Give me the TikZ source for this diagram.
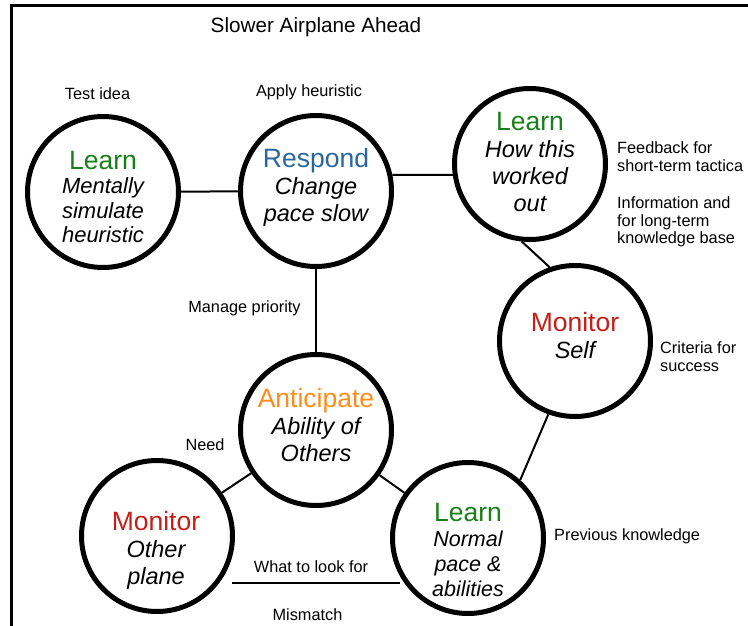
\documentclass[tikz,border=0pt]{standalone}
\usepackage{fontspec}
\setmainfont{Liberation Sans}
\usepackage{tikz}

\definecolor{learngreen}{RGB}{24,128,24}
\definecolor{respondblue}{RGB}{40,102,158}
\definecolor{monitorred}{RGB}{196,30,22}
\definecolor{anticorange}{RGB}{255,140,26}

\newcommand{\stage}[2]{{\fontsize{26.5}{27}\selectfont\upshape\color{#1}#2}}

\begin{document}
\begin{tikzpicture}[x=10pt, y=-10pt,
    bubble/.style={circle, draw, line width=5pt, minimum size=151pt, inner sep=0pt},
    inside/.style={align=center, inner sep=0pt, font=\fontsize{23.5}{27}\selectfont\itshape},
    note/.style={inner sep=0pt, font=\fontsize{16.3}{17.5}\selectfont},
    link/.style={line width=2pt}]

    \useasboundingbox (0,0) rectangle (74.8,62.6);
    \draw[line width=3pt] (74.8,0.6) -- (1.1,0.6) -- (1.1,62.6);

    \node[note, anchor=base, font=\fontsize{20.7}{24}\selectfont] (title) at (31.6,3.3) {Slower Airplane Ahead};

    \node[bubble] (c1) at (10.3,19.2) {};
    \node[bubble] (c2) at (31.6,19.1) {};
    \node[bubble] (c3) at (53.0,16.4) {};
    \node[bubble] (c4) at (57.5,34.1) {};
    \node[bubble] (c5) at (31.6,43.0) {};
    \node[bubble] (c6) at (15.7,53.6) {};
    \node[bubble] (c7) at (46.8,53.8) {};

    \node[inside, font=\fontsize{22}{24.5}\selectfont\itshape] (t1) at (10.3,19.7) {\stage{learngreen}{Learn}\\Mentally\\simulate\\heuristic};
    \node[inside] (t2) at (31.6,18.7) {\stage{respondblue}{Respond}\\Change\\pace slow};
    \node[inside] (t3) at (53.0,16.2) {\stage{learngreen}{Learn}\\How this\\worked\\out};
    \node[inside] (t4) at (57.5,33.6) {\stage{monitorred}{Monitor}\\Self};
    \node[inside] (t5) at (31.6,42.5) {\stage{anticorange}{Anticipate}\\Ability of\\Others};
    \node[inside] (t6) at (15.6,55.0) {\stage{monitorred}{Monitor}\\Other\\plane};
    \node[inside, font=\fontsize{21.5}{25}\selectfont\itshape] (t7) at (46.8,55.0) {\stage{learngreen}{Learn}\\Normal\\pace \&\\abilities};

    \draw[link] (c1) -- (c2);
    \draw[link] (c2.12) -- (c3.188);
    \draw[link] (c2) -- (c5);
    \draw[link] (c3.264) -- (c4.109);
    \draw[link] (c5) -- (c6);
    \draw[link] (c5) -- (c7);
    \draw[link] (c7.48) -- (c4.250);
    \coordinate (m1) at (23.2,58.3);
    \coordinate (m2) at (40.0,58.3);
    \draw[link] (m1) -- (m2);

    \node[note, anchor=base] (test) at (9.75,10.0) {Test idea};
    \node[note, anchor=base] (apply) at (30.9,9.7) {Apply heuristic};
    \node[note, anchor=north west, align=left] (feedback) at (61.7,14.16) {Feedback for\\short-term tactica};
    \node[note, anchor=north west, align=left] (info) at (61.7,19.66) {Information and\\for long-term\\knowledge base};
    \node[note, anchor=north west, align=left] (criteria) at (66.0,34.16) {Criteria for\\success};
    \node[note, anchor=base] (priority) at (24.45,31.2) {Manage priority};
    \node[note, anchor=base] (need) at (20.5,45.0) {Need};
    \node[note, anchor=base west] (previous) at (55.4,54.0) {Previous knowledge};
    \node[note, anchor=base] (lookfor) at (31.1,57.2) {What to look for};
    \node[note, anchor=base] (mismatch) at (30.75,62.0) {Mismatch};
\end{tikzpicture}
\end{document}
